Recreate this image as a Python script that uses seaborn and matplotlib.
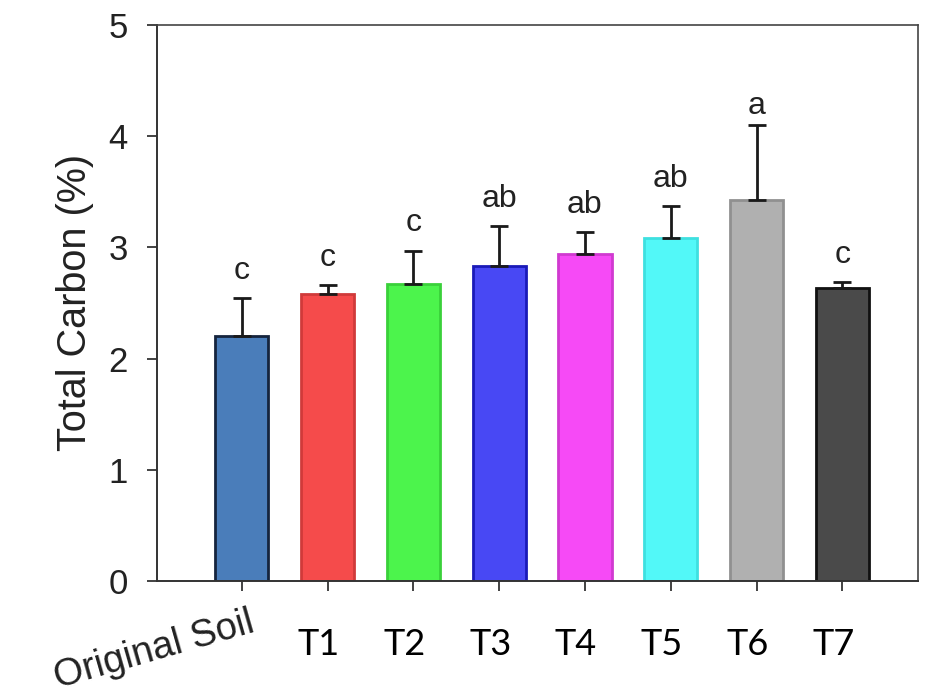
import numpy as np
import pandas as pd
import seaborn as sns
import matplotlib.pyplot as plt
from matplotlib.transforms import ScaledTranslation

# Data
treatments = ["Original Soil", "T1", "T2", "T3", "T4", "T5", "T6", "T7"]
total_carbon = [2.20, 2.58, 2.67, 2.83, 2.94, 3.08, 3.43, 2.63]
error_up = [0.34, 0.08, 0.30, 0.36, 0.20, 0.29, 0.67, 0.06]
letters = ["c", "c", "c", "ab", "ab", "ab", "a", "c"]

bar_colors = ["#4a7dba", "#f54b4b", "#4cf44c", "#4848f4", "#f64af6", "#52f8f8", "#b0b0b0", "#4a4a4a"]
edge_colors = ["#15243d", "#d03a3a", "#3ad03a", "#1a1ab8", "#d03ad0", "#3ee0e0", "#909090", "#111111"]

df = pd.DataFrame({"treatment": treatments, "carbon": total_carbon})

sns.set_style("ticks")
plt.rcParams["font.family"] = ["Liberation Sans", "DejaVu Sans"]

fig = plt.figure(figsize=(9.28, 6.94), dpi=100)
ax = fig.add_axes([0.169, 0.163, 0.820, 0.801])

sns.barplot(data=df, x="treatment", y="carbon", hue="treatment",
            palette=bar_colors, saturation=1, legend=False, width=0.62,
            ax=ax, errorbar=None)

for patch, ec in zip(ax.patches, edge_colors):
    patch.set_edgecolor(ec)
    patch.set_linewidth(2)

x = np.arange(len(treatments))
ax.errorbar(x, total_carbon, yerr=[np.zeros(len(x)), error_up], fmt="none",
            ecolor="#1a1a1a", elinewidth=2, capsize=6.5, capthick=2, zorder=3)

# significance letters
for xi, m, e, lab in zip(x, total_carbon, error_up, letters):
    gap = 0.04 if lab == "a" else 0.11
    ax.text(xi, m + e + gap, lab, ha="center", va="bottom", fontsize=23,
            color="#222222")

ax.set_xlim(-0.99, 7.88)
ax.set_ylim(0, 5)
ax.set_yticks([0, 1, 2, 3, 4, 5])
ax.tick_params(axis="y", labelsize=25, length=7, width=1.2, pad=14, colors="#222222")
ax.tick_params(axis="x", length=7, width=1.2, pad=27, colors="#222222")
ax.set_xlabel("")
ax.set_ylabel("Total Carbon (%)", fontsize=28.5, labelpad=10, color="#222222")

# x tick labels: T labels in a narrow sans, first one rotated
ax.set_xticks(x)
ax.set_xticklabels(treatments)
for i, lab in enumerate(ax.get_xticklabels()):
    if i == 0:
        lab.set_rotation(16)
        lab.set_rotation_mode("anchor")
        lab.set_ha("right")
        lab.set_va("top")
        lab.set_fontsize(27.5)
        lab.set_color("#222222")
        lab.set_transform(lab.get_transform() + ScaledTranslation(0.07, 0.24, fig.dpi_scale_trans))
    else:
        lab.set_fontfamily(["Liberation Sans Narrow", "Lato", "DejaVu Sans"])
        lab.set_fontsize(26)
        lab.set_color("black")
        lab.set_transform(lab.get_transform() + ScaledTranslation(-0.09, 0, fig.dpi_scale_trans))

for side in ["left", "bottom"]:
    ax.spines[side].set_linewidth(1.4)
    ax.spines[side].set_color("#333333")
for side in ["top", "right"]:
    ax.spines[side].set_visible(True)
    ax.spines[side].set_linewidth(1.2)
    ax.spines[side].set_color("#444444")

fig.savefig("out.png", dpi=100)
